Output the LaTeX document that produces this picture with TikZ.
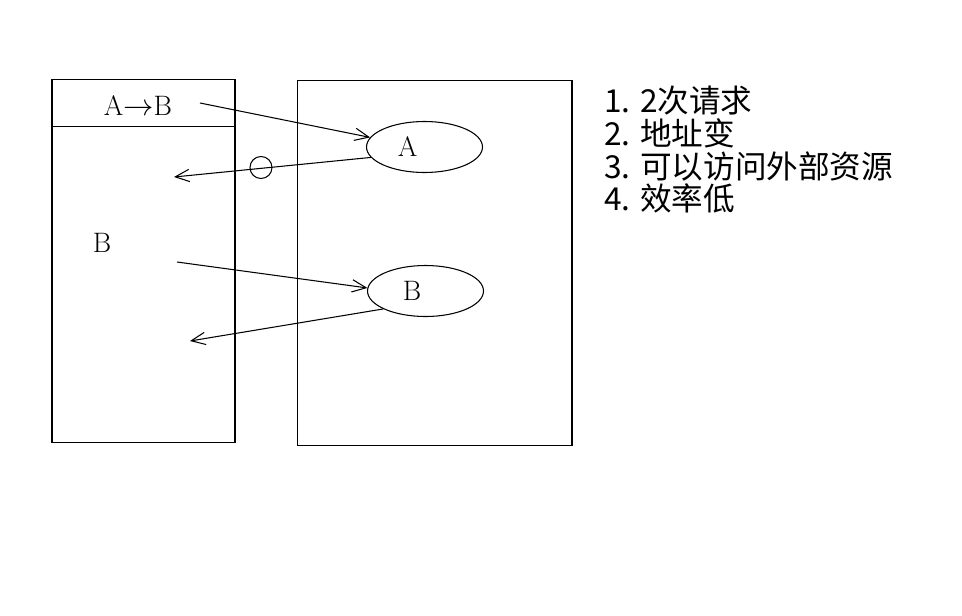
\documentclass[tikz,border=0pt]{standalone}
\usepackage{fontspec}
\newfontfamily\cjk{Noto Sans CJK SC}
\usetikzlibrary{positioning,arrows.meta,shapes.geometric}
\tikzset{
    base/.style={font=\fontsize{16pt}{18pt}\selectfont, inner sep=0pt},
    boxnode/.style={rectangle, draw, line width=0.6pt, inner sep=0pt},
    ellipsenode/.style={ellipse, draw, line width=0.6pt, inner sep=0pt,
                        minimum width=2.32cm, minimum height=1.02cm},
    ringnode/.style={circle, draw, line width=0.6pt, inner sep=0pt, minimum size=0.44cm},
    flow/.style={-{Straight Barb[length=8pt,width=7pt]}, line width=0.6pt},
    notes/.style={font=\cjk\fontsize{18pt}{18.6pt}\selectfont, align=left, inner sep=0pt}
}
\begin{document}
\begin{tikzpicture}[x=0.02cm, y=-0.02cm]
  \useasboundingbox (0,0) rectangle (962,615);
  % the two boxes
  \node[boxnode, minimum width=3.66cm, minimum height=7.28cm] (client) at (143.5,261) {};
  \draw[line width=0.6pt] ([yshift=-0.96cm]client.north west) -- ([yshift=-0.96cm]client.north east);
  \node[boxnode, minimum width=5.5cm, minimum height=7.32cm] (server) at (434.5,263) {};
  \node[base] (addr) at (138,106) {A$\rightarrow$B};
  \node[base] (page) at (102,243) {B};
  % resources
  \node[ellipsenode, label={[base, xshift=-0.34cm]center:A}] (resA) at (424.5,147) {};
  \node[ellipsenode, label={[base, xshift=-0.27cm]center:B}] (resB) at (425.5,291) {};
  \coordinate (reqA) at (200,103);
  \coordinate (backA) at (174,177);
  \coordinate (reqB) at (177,262);
  \coordinate (backB) at (190,341);
  \draw[flow] (reqA) -- (resA.170);
  \draw[flow] (resA.191) -- (backA);
  \node[ringnode] (cut) at (261,167.5) {};
  \draw[flow] (reqB) -- (resB.177);
  \draw[flow] (resB.203) -- (backB);
  % notes
  \node[notes, anchor=west] (notes) at (604,150) {1. 2次请求\\2. 地址变\\3. 可以访问外部资源\\4. 效率低};
\end{tikzpicture}
\end{document}
